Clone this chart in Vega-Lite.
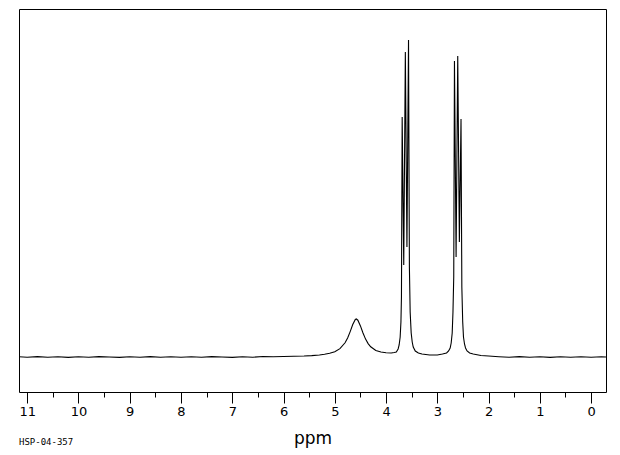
{
  "$schema": "https://vega.github.io/schema/vega-lite/v6.json",
  "width": 587,
  "height": 383,
  "autosize": {"type": "none"},
  "padding": {"left": 19, "top": 9, "right": 14, "bottom": 63},
  "background": "white",
  "config": {"view": {"stroke": "black", "strokeWidth": 1}, "axis": {"grid": false}},
  "title": {"text": "HSP-04-357", "orient": "bottom", "anchor": "start", "frame": "group", "fontSize": 9, "font": "DejaVu Sans Mono", "fontWeight": "normal", "color": "black", "offset": -8},
  "data": {"values": [
    {"ppm": 11.16, "intensity": 0.3}, {"ppm": 11.0, "intensity": -0.3}, {"ppm": 10.8, "intensity": 0.4}, {"ppm": 10.6, "intensity": -0.2},
    {"ppm": 10.4, "intensity": 0.3}, {"ppm": 10.2, "intensity": -0.4}, {"ppm": 10.0, "intensity": 0.2}, {"ppm": 9.8, "intensity": -0.3},
    {"ppm": 9.6, "intensity": 0.4}, {"ppm": 9.4, "intensity": 0}, {"ppm": 9.2, "intensity": -0.4}, {"ppm": 9.0, "intensity": 0.3},
    {"ppm": 8.8, "intensity": -0.2}, {"ppm": 8.6, "intensity": 0.4}, {"ppm": 8.4, "intensity": -0.3}, {"ppm": 8.2, "intensity": 0.2},
    {"ppm": 8.0, "intensity": -0.3}, {"ppm": 7.8, "intensity": 0.3}, {"ppm": 7.6, "intensity": -0.2}, {"ppm": 7.4, "intensity": 0.4},
    {"ppm": 7.2, "intensity": 0}, {"ppm": 7.0, "intensity": -0.4}, {"ppm": 6.8, "intensity": 0.3}, {"ppm": 6.6, "intensity": -0.2},
    {"ppm": 6.4, "intensity": 0.5}, {"ppm": 6.2, "intensity": 0.2}, {"ppm": 6.0, "intensity": 0.5}, {"ppm": 5.8, "intensity": 0.7},
    {"ppm": 5.6, "intensity": 1.0}, {"ppm": 5.45, "intensity": 1.4}, {"ppm": 5.3, "intensity": 2.0}, {"ppm": 5.2, "intensity": 2.7},
    {"ppm": 5.1, "intensity": 3.7}, {"ppm": 5.0, "intensity": 5.3}, {"ppm": 4.9, "intensity": 8.4}, {"ppm": 4.8, "intensity": 14.2},
    {"ppm": 4.75, "intensity": 19}, {"ppm": 4.7, "intensity": 25.4}, {"ppm": 4.65, "intensity": 32.5}, {"ppm": 4.6, "intensity": 37.5},
    {"ppm": 4.58, "intensity": 38}, {"ppm": 4.55, "intensity": 36.8}, {"ppm": 4.5, "intensity": 31.1}, {"ppm": 4.45, "intensity": 24},
    {"ppm": 4.4, "intensity": 17.9}, {"ppm": 4.35, "intensity": 13.4}, {"ppm": 4.3, "intensity": 10.2}, {"ppm": 4.2, "intensity": 6.5},
    {"ppm": 4.1, "intensity": 5}, {"ppm": 4.0, "intensity": 4.3}, {"ppm": 3.9, "intensity": 4}, {"ppm": 3.84, "intensity": 4.5},
    {"ppm": 3.8, "intensity": 5}, {"ppm": 3.765, "intensity": 8}, {"ppm": 3.745, "intensity": 12}, {"ppm": 3.725, "intensity": 20},
    {"ppm": 3.71, "intensity": 35}, {"ppm": 3.7, "intensity": 60}, {"ppm": 3.686, "intensity": 240}, {"ppm": 3.655, "intensity": 92},
    {"ppm": 3.624, "intensity": 305}, {"ppm": 3.593, "intensity": 110}, {"ppm": 3.562, "intensity": 317}, {"ppm": 3.545, "intensity": 90},
    {"ppm": 3.53, "intensity": 45}, {"ppm": 3.51, "intensity": 24}, {"ppm": 3.49, "intensity": 15}, {"ppm": 3.47, "intensity": 10},
    {"ppm": 3.43, "intensity": 6}, {"ppm": 3.37, "intensity": 4}, {"ppm": 3.3, "intensity": 3}, {"ppm": 3.15, "intensity": 2},
    {"ppm": 3.0, "intensity": 2}, {"ppm": 2.9, "intensity": 3}, {"ppm": 2.82, "intensity": 4}, {"ppm": 2.78, "intensity": 6},
    {"ppm": 2.75, "intensity": 9}, {"ppm": 2.73, "intensity": 14}, {"ppm": 2.71, "intensity": 24}, {"ppm": 2.695, "intensity": 45},
    {"ppm": 2.68, "intensity": 80}, {"ppm": 2.666, "intensity": 296}, {"ppm": 2.634, "intensity": 100}, {"ppm": 2.602, "intensity": 301},
    {"ppm": 2.57, "intensity": 115}, {"ppm": 2.538, "intensity": 238}, {"ppm": 2.522, "intensity": 70}, {"ppm": 2.505, "intensity": 35},
    {"ppm": 2.49, "intensity": 20}, {"ppm": 2.47, "intensity": 13}, {"ppm": 2.45, "intensity": 9}, {"ppm": 2.42, "intensity": 6},
    {"ppm": 2.37, "intensity": 4}, {"ppm": 2.3, "intensity": 3}, {"ppm": 2.15, "intensity": 1.5}, {"ppm": 2.0, "intensity": 1},
    {"ppm": 1.8, "intensity": 0.3}, {"ppm": 1.6, "intensity": -0.3}, {"ppm": 1.4, "intensity": 0.4}, {"ppm": 1.2, "intensity": -0.2},
    {"ppm": 1.0, "intensity": 0.3}, {"ppm": 0.8, "intensity": -0.4}, {"ppm": 0.6, "intensity": 0.2}, {"ppm": 0.4, "intensity": -0.3},
    {"ppm": 0.2, "intensity": 0.3}, {"ppm": 0.0, "intensity": -0.2}, {"ppm": -0.2, "intensity": 0.3}, {"ppm": -0.29, "intensity": 0}
  ]},
  "layer": [
    {
      "mark": {"type": "line", "color": "black", "strokeWidth": 1.1, "clip": true},
      "encoding": {
        "x": {"field": "ppm", "type": "quantitative",
          "scale": {"domain": [-0.29, 11.16], "reverse": true, "nice": false, "zero": false},
          "axis": {"orient": "bottom", "values": [0, 1, 2, 3, 4, 5, 6, 7, 8, 9, 10, 11], "format": "d", "domain": false,
            "tickSize": 11, "tickColor": "black", "tickWidth": 1, "labelFontSize": 13, "labelFont": "DejaVu Sans", "labelColor": "black",
            "labelPadding": 2, "labelFlush": false, "title": "ppm", "titleFontSize": 17, "titleFont": "DejaVu Sans", "titleFontWeight": "normal",
            "titleColor": "black", "titlePadding": 12}},
        "y": {"field": "intensity", "type": "quantitative", "scale": {"domain": [-35, 348], "nice": false, "zero": false}, "axis": null}
      }
    },
    {
      "mark": {"type": "line", "opacity": 0},
      "encoding": {
        "x": {"field": "ppm", "type": "quantitative",
          "axis": {"orient": "bottom", "values": [0.5, 1.5, 2.5, 3.5, 4.5, 5.5, 6.5, 7.5, 8.5, 9.5, 10.5], "labels": false, "domain": false,
            "tickSize": 5, "tickColor": "black", "tickWidth": 1, "title": null}},
        "y": {"field": "intensity", "type": "quantitative", "axis": null}
      }
    }
  ],
  "resolve": {"axis": {"x": "independent"}}
}
